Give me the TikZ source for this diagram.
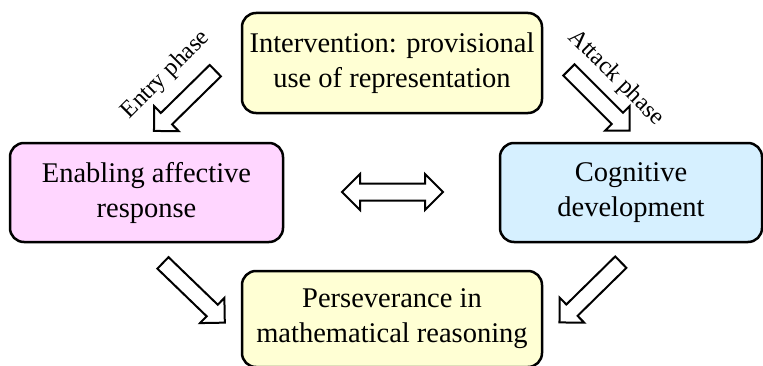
\documentclass[tikz,border=0pt]{standalone}
\usepackage{fontspec}
\setmainfont{Liberation Serif}
\usetikzlibrary{shapes.arrows}
\definecolor{boxyellow}{RGB}{255,255,212}
\definecolor{boxpink}{RGB}{255,214,255}
\definecolor{boxblue}{RGB}{214,240,255}
\begin{document}
\begin{tikzpicture}[x=1pt,y=1pt,
    box/.style={draw, line width=2.5pt, rounded corners=14pt, align=center,
        inner sep=0pt, font=\fontsize{28.5}{35}\selectfont},
    blockarr/.style={single arrow, draw, line width=2pt, fill=white,
        inner xsep=0pt, inner ysep=7pt, single arrow head extend=9.5pt,
        single arrow tip angle=90, minimum height=86pt},
    phase/.style={font=\fontsize{24}{28}\selectfont}]
\useasboundingbox (0,0) rectangle (763,365);
% the four boxes
\node[box, fill=boxyellow, minimum width=300pt, minimum height=100pt] (interv) at (392,302)
    {Intervention: provisional\\use of representation};
\node[box, fill=boxpink, minimum width=273pt, minimum height=99pt] (affect) at (146.5,172.5)
    {Enabling affective\\response};
\node[box, fill=boxblue, minimum width=262pt, minimum height=99pt] (cognit) at (631,172.5)
    {Cognitive\\development};
\node[box, fill=boxyellow, minimum width=300pt, minimum height=96pt] (persev) at (392,46)
    {Perseverance in\\mathematical reasoning};
% block arrows
\node[blockarr, rotate=-135.5] (entry) at (187.5,267) {};
\node[blockarr, rotate=-45] (attack) at (596.5,267.5) {};
\node[blockarr, rotate=-44] (toleft) at (191,75) {};
\node[blockarr, rotate=-135.5] (toright) at (593,75.5) {};
\node[double arrow, draw, line width=2pt, fill=white,
    inner xsep=0pt, inner ysep=7.5pt, double arrow head extend=9.5pt,
    double arrow tip angle=90, minimum height=101pt] (both) at (392.5,173) {};
% phase labels
\node[phase, rotate=45] (entrylbl) at (166,290) {Entry phase};
\node[phase, rotate=-45] (attacklbl) at (616,287) {Attack phase};
\end{tikzpicture}
\end{document}
